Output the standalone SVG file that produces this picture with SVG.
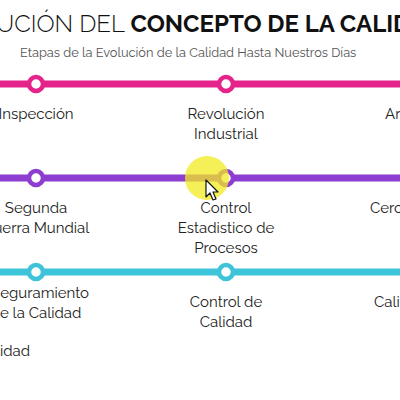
<svg xmlns="http://www.w3.org/2000/svg" width="400" height="400" viewBox="0 0 400 400">
<style>
.t{font-family:Raleway,Lato,"Open Sans",sans-serif;font-size:15px;fill:#222;text-anchor:middle}
.line{stroke-width:7;fill:none}
.node{fill:#fff;stroke-width:4.5}
.pink{stroke:#e5248b}
.purple{stroke:#8e3dd1}
.cyan{stroke:#3ec4d8}
</style>
<rect width="400" height="400" fill="#fff"/>
<text x="-4" y="32" font-family="Raleway,Lato,'Open Sans',sans-serif" font-size="24" fill="#111"><tspan font-weight="300">UCIÓN DEL </tspan><tspan font-weight="bold">CONCEPTO DE LA CALIDAD</tspan></text>
<text x="20" y="57" font-family="Raleway,Lato,'Open Sans',sans-serif" font-size="12.8" fill="#555">Etapas de la Evolución de la Calidad Hasta Nuestros Días</text>
<g id="connectors">
<line class="line pink" x1="0" y1="84" x2="400" y2="84"/>
<line class="line purple" x1="0" y1="178" x2="400" y2="178"/>
<line class="line cyan" x1="0" y1="272" x2="400" y2="272"/>
</g>
<g id="n-inspeccion"><circle class="node pink" cx="36" cy="84" r="7"/><text class="t" x="36" y="119">Inspección</text></g>
<g id="n-revolucion"><circle class="node pink" cx="226" cy="84" r="7"/><text class="t" x="226" y="119">Revolución</text><text class="t" x="226" y="139">Industrial</text></g>
<g id="n-ar"><text class="t" x="385" y="119" style="text-anchor:start">Ar</text></g>
<g id="n-segunda"><circle class="node purple" cx="36" cy="178" r="7"/><text class="t" x="36" y="213">Segunda</text><text class="t" x="36" y="233">Guerra Mundial</text></g>
<g id="n-control-est"><circle class="node purple" cx="226" cy="178" r="7"/><text class="t" x="226" y="213">Control</text><text class="t" x="226" y="233">Estadistico de</text><text class="t" x="226" y="253">Procesos</text></g>
<g id="n-cero"><text class="t" x="370" y="213" style="text-anchor:start">Cero</text></g>
<g id="n-aseguramiento"><circle class="node cyan" cx="36" cy="272" r="7"/><text class="t" x="36" y="298">Aseguramiento</text><text class="t" x="36" y="318">de la Calidad</text></g>
<g id="n-control-cal"><circle class="node cyan" cx="226" cy="272" r="7"/><text class="t" x="226" y="307">Control de</text><text class="t" x="226" y="327">Calidad</text></g>
<g id="n-calid"><text class="t" x="374" y="307" style="text-anchor:start">Calidad</text></g>
<g id="n-lidad"><text class="t" x="30" y="356" style="text-anchor:end">Calidad</text></g>
<circle cx="207" cy="178" r="22" fill="#f2ea20" opacity="0.75"/>
<path d="M206,180 L206,197 L210,193 L213,200 L216,199 L213,192 L218,192 Z" fill="#fff" stroke="#111" stroke-width="1.2" stroke-linejoin="round"/>
</svg>
